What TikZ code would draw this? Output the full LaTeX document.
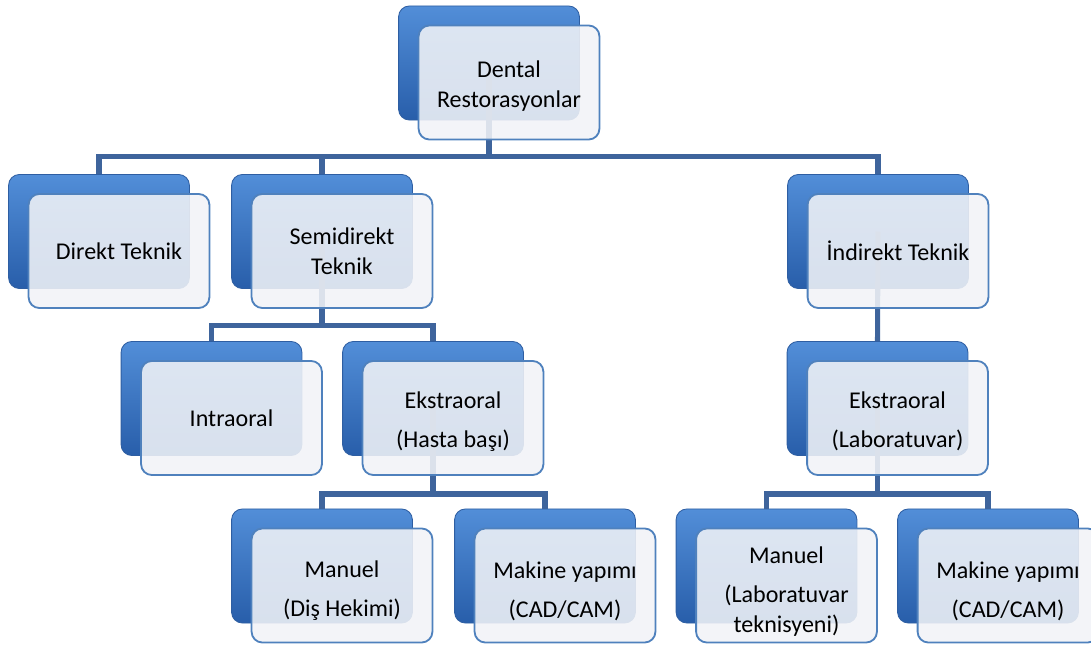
\documentclass[tikz,border=0pt]{standalone}
\usepackage{fontspec}
\setmainfont{Carlito}
\usepackage{tikz}

\definecolor{backtop}{RGB}{82,142,216}
\definecolor{backmid}{RGB}{62,124,202}
\definecolor{backbot}{RGB}{40,94,170}
\definecolor{backedge}{RGB}{46,94,162}
\definecolor{frontfill}{RGB}{241,243,247}
\definecolor{frontedge}{RGB}{79,129,189}
\definecolor{connblue}{RGB}{62,100,156}

\tikzset{
  backbox/.style={draw=backedge, line width=0.6pt, rounded corners=0.27cm,
    top color=backtop, middle color=backmid, bottom color=backbot,
    minimum width=4.52cm, minimum height=2.85cm, inner sep=0pt},
  frontbox/.style={draw=frontedge, line width=1.3pt, rounded corners=0.27cm,
    fill=frontfill, fill opacity=0.88,
    minimum width=4.52cm, minimum height=2.85cm, inner sep=0pt},
  boxtext/.style={align=center, inner sep=0pt, font=\fontsize{17.1}{21.3}\selectfont},
  conn/.style={draw=connblue, line width=3.6pt}
}

\begin{document}
\begin{tikzpicture}[x=0.025cm, y=-0.025cm]
    \useasboundingbox (0,0) rectangle (1091,649);
    \clip (0,0) rectangle (1091,649);

    % back boxes
    \node[backbox] (rest-b) at (489,63) {};
    \node[backbox] (direkt-b) at (99,231.5) {};
    \node[backbox] (semi-b) at (322,231.5) {};
    \node[backbox] (indirekt-b) at (878,231.5) {};
    \node[backbox] (intra-b) at (211.5,398.5) {};
    \node[backbox] (ekstraH-b) at (433,398.5) {};
    \node[backbox] (ekstraL-b) at (877.5,398.5) {};
    \node[backbox] (manuelD-b) at (322,566) {};
    \node[backbox] (makineH-b) at (545,566) {};
    \node[backbox] (manuelL-b) at (766.5,566) {};
    \node[backbox] (makineL-b) at (988,566) {};

    % connectors
    \coordinate (busA) at (0,156.5);
    \coordinate (busB) at (0,325.5);
    \coordinate (busC) at (0,494);

    \draw[conn] (rest-b.center) -- (rest-b.center |- busA) -| (direkt-b.north);
    \draw[conn] (rest-b.center |- busA) -| (semi-b.north);
    \draw[conn] (rest-b.center |- busA) -| (indirekt-b.north);
    \draw[conn] (semi-b.center) -- (semi-b.center |- busB) -| (intra-b.north);
    \draw[conn] (semi-b.center |- busB) -| (ekstraH-b.north);
    \draw[conn] (indirekt-b.center) -- (ekstraL-b.north);
    \draw[conn] (ekstraH-b.center) -- (ekstraH-b.center |- busC) -| (manuelD-b.north);
    \draw[conn] (ekstraH-b.center |- busC) -| (makineH-b.north);
    \draw[conn] (ekstraL-b.center) -- (ekstraL-b.center |- busC) -| (manuelL-b.north);
    \draw[conn] (ekstraL-b.center |- busC) -| (makineL-b.north);

    % front boxes
    \node[frontbox] (rest) at (509,82.5) {};
    \node[frontbox] (direkt) at (119,251) {};
    \node[frontbox] (semi) at (342,251) {};
    \node[frontbox] (indirekt) at (898,251) {};
    \node[frontbox] (intra) at (231.5,418) {};
    \node[frontbox] (ekstraH) at (453,418) {};
    \node[frontbox] (ekstraL) at (897.5,418) {};
    \node[frontbox] (manuelD) at (342,585.5) {};
    \node[frontbox] (makineH) at (565,585.5) {};
    \node[frontbox] (manuelL) at (786.5,585.5) {};
    \node[frontbox] (makineL) at (1008,585.5) {};

    % texts
    \node[boxtext] (rest-t) at ([yshift=-0.09cm]rest.center) {Dental\\Restorasyonlar};
    \node[boxtext] (direkt-t) at (direkt.center) {Direkt Teknik};
    \node[boxtext] (semi-t) at (semi.center) {Semidirekt\\Teknik};
    \node[boxtext] (indirekt-t) at (indirekt.center) {İndirekt Teknik};
    \node[boxtext] (intra-t) at (intra.center) {Intraoral};
    \node[boxtext] (ekstraH-t) at ([yshift=-0.1cm]ekstraH.center) {Ekstraoral\\[6.5pt](Hasta başı)};
    \node[boxtext] (ekstraL-t) at ([yshift=-0.08cm]ekstraL.center) {Ekstraoral\\[6.5pt](Laboratuvar)};
    \node[boxtext] (manuelD-t) at ([yshift=-0.14cm]manuelD.center) {Manuel\\[6.5pt](Diş Hekimi)};
    \node[boxtext] (makineH-t) at ([yshift=-0.14cm]makineH.center) {Makine yapımı\\[6.5pt](CAD/CAM)};
    \node[boxtext] (manuelL-t) at ([yshift=-0.16cm]manuelL.center) {Manuel\\[6.5pt](Laboratuvar\\teknisyeni)};
    \node[boxtext] (makineL-t) at ([yshift=-0.14cm]makineL.center) {Makine yapımı\\[6.5pt](CAD/CAM)};
\end{tikzpicture}
\end{document}
